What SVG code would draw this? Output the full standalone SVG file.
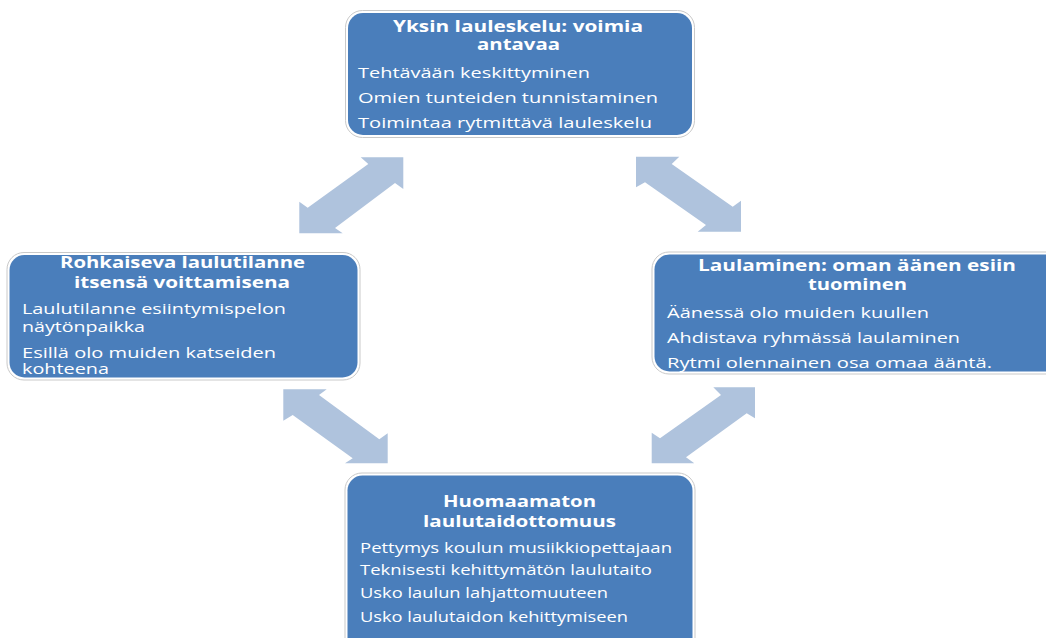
<svg xmlns="http://www.w3.org/2000/svg" width="1046" height="638" viewBox="0 0 1046 638">
<style>
.outer{fill:#ffffff;stroke:#c9c9c9;stroke-width:1}
.inner{fill:#4A7EBB}
.t{font-family:"Open Sans","Liberation Sans",sans-serif;font-weight:bold;font-size:15.5px;fill:#ffffff}
.b{font-family:"Open Sans","Liberation Sans",sans-serif;font-size:15px;fill:#ffffff}
.bs{font-family:"Open Sans","Liberation Sans",sans-serif;font-size:14.5px;fill:#ffffff}
.arr{fill:#AFC3DD}
</style>
<rect width="1046" height="638" fill="#ffffff"/>
<g id="connectors">
<polygon class="arr" points="403.3,157.3 403.3,189 395,183 335,228 342.7,233.3 299.3,233.3 299.3,201.7 307.7,207.7 368.3,164 360.7,157.3"/>
<polygon class="arr" points="636,156.7 679.3,156.7 671.7,164 732.7,206.7 741,200.7 741,231.7 697.7,231.7 706,225 645,182.3 636,187.3"/>
<polygon class="arr" points="283.3,389.3 326.7,389.3 319,395 379.3,439.3 387.7,433.3 387.7,463.3 345,463.3 352.7,458.3 292.7,415 283.3,420.7"/>
<polygon class="arr" points="755,387.3 755,418.3 746.7,413.3 686,457.3 694.3,463.3 651.7,463.3 651.7,432.7 660,438.3 721,395 713.3,387.3"/>
</g>
<g id="node-top">
<rect class="outer" x="345.5" y="10.5" width="349" height="127" rx="17"/>
<rect class="inner" x="348" y="13" width="344" height="122" rx="15"/>
<text class="t" x="393" y="32" textLength="250" lengthAdjust="spacingAndGlyphs">Yksin lauleskelu: voimia</text>
<text class="t" x="477" y="50" textLength="83" lengthAdjust="spacingAndGlyphs">antavaa</text>
<text class="b" x="358" y="78" textLength="232" lengthAdjust="spacingAndGlyphs">Tehtävään keskittyminen</text>
<text class="b" x="358" y="103" textLength="300" lengthAdjust="spacingAndGlyphs">Omien tunteiden tunnistaminen</text>
<text class="b" x="358" y="128" textLength="294" lengthAdjust="spacingAndGlyphs">Toimintaa rytmittävä lauleskelu</text>
</g>
<g id="node-left">
<rect class="outer" x="7" y="252.5" width="353" height="127.5" rx="17"/>
<rect class="inner" x="9.5" y="255" width="348" height="122.5" rx="15"/>
<text class="t" x="60" y="268" textLength="245" lengthAdjust="spacingAndGlyphs">Rohkaiseva laulutilanne</text>
<text class="t" x="74" y="288" textLength="216" lengthAdjust="spacingAndGlyphs">itsensä voittamisena</text>
<text class="b" x="22" y="314" textLength="264" lengthAdjust="spacingAndGlyphs">Laulutilanne esiintymispelon</text>
<text class="b" x="22" y="332" textLength="123" lengthAdjust="spacingAndGlyphs">näytönpaikka</text>
<text class="b" x="22" y="358" textLength="254" lengthAdjust="spacingAndGlyphs">Esillä olo muiden katseiden</text>
<text class="b" x="22" y="374" textLength="87" lengthAdjust="spacingAndGlyphs">kohteena</text>
</g>
<g id="node-right">
<rect class="outer" x="652" y="252" width="420" height="122" rx="17"/>
<rect class="inner" x="654.5" y="254.5" width="415" height="117" rx="15"/>
<text class="t" x="698" y="271" textLength="318" lengthAdjust="spacingAndGlyphs">Laulaminen: oman äänen esiin</text>
<text class="t" x="808" y="290" textLength="99" lengthAdjust="spacingAndGlyphs">tuominen</text>
<text class="b" x="667" y="318" textLength="262" lengthAdjust="spacingAndGlyphs">Äänessä olo muiden kuullen</text>
<text class="b" x="667" y="343" textLength="293" lengthAdjust="spacingAndGlyphs">Ahdistava ryhmässä laulaminen</text>
<text class="b" x="667" y="368" textLength="325" lengthAdjust="spacingAndGlyphs">Rytmi olennainen osa omaa ääntä.</text>
</g>
<g id="node-bottom">
<rect class="outer" x="345" y="473" width="350" height="190" rx="17"/>
<rect class="inner" x="347.5" y="475.5" width="345" height="185" rx="15"/>
<text class="t" x="443" y="507" textLength="153" lengthAdjust="spacingAndGlyphs">Huomaamaton</text>
<text class="t" x="423" y="527" textLength="193" lengthAdjust="spacingAndGlyphs">laulutaidottomuus</text>
<text class="bs" x="360" y="553" textLength="312" lengthAdjust="spacingAndGlyphs">Pettymys koulun musiikkiopettajaan</text>
<text class="bs" x="360" y="575" textLength="292" lengthAdjust="spacingAndGlyphs">Teknisesti kehittymätön laulutaito</text>
<text class="bs" x="360" y="598" textLength="248" lengthAdjust="spacingAndGlyphs">Usko laulun lahjattomuuteen</text>
<text class="bs" x="360" y="622" textLength="268" lengthAdjust="spacingAndGlyphs">Usko laulutaidon kehittymiseen</text>
</g>
</svg>
